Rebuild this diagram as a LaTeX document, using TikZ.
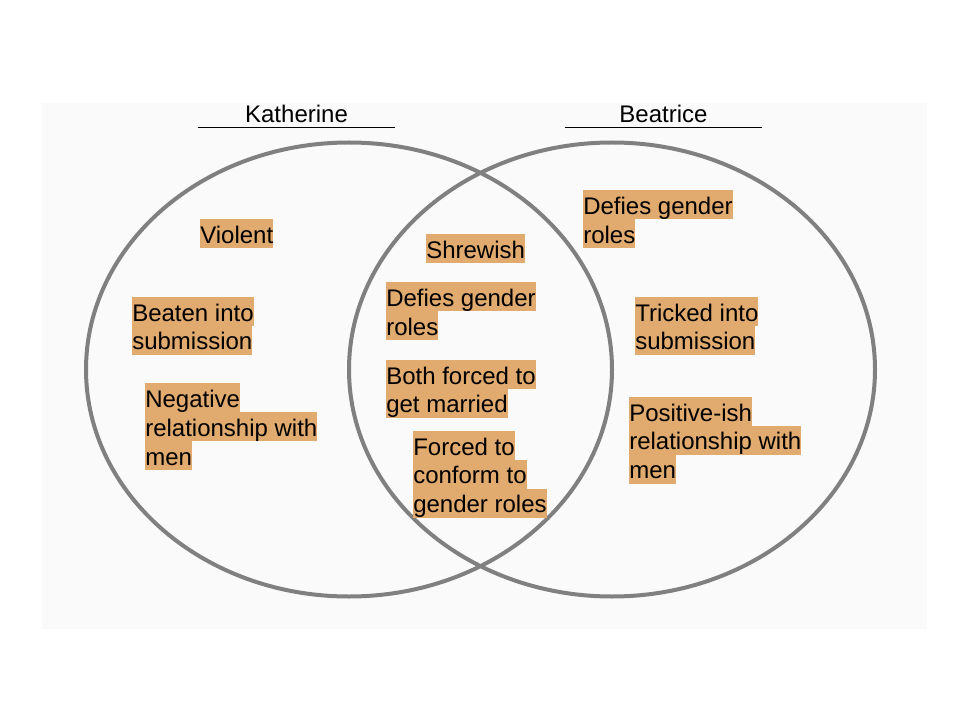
\documentclass[tikz,border=0pt]{standalone}
\usepackage{fontspec}
\setmainfont{Liberation Sans}
\definecolor{hlorange}{RGB}{225,170,110}
\definecolor{ringgray}{RGB}{128,128,128}
\definecolor{panelgray}{RGB}{250,250,250}
\newcommand{\hlline}[1]{{\setlength{\fboxsep}{0pt}\colorbox{hlorange}{\rule[-3.5pt]{0pt}{21.5pt}#1}}}

\begin{document}
\begin{tikzpicture}[x=0.75pt,y=-0.75pt,
ring/.style={draw=ringgray,line width=3pt},
title/.style={font=\fontsize{18}{21.5}\selectfont,inner xsep=0pt,inner ysep=3pt,minimum width=147.75pt,anchor=base},
uline/.style={draw=black,line width=0.9pt},
lab/.style={font={\fontsize{18}{21.5}\selectfont\lineskip=0pt\lineskiplimit=0pt},align=left,inner sep=0pt,anchor=north west}]
\useasboundingbox (0,0) rectangle (960,720);
\fill[panelgray] (42,103) rectangle (927,629);
\draw[ring] (349,369.5) ellipse [x radius=263,y radius=227];
\draw[ring] (612,369.5) ellipse [x radius=263,y radius=227];
\node[title] (ktitle) at (296.5,123) {Katherine};
\node[title] (btitle) at (663.5,123) {Beatrice};
\draw[uline] (ktitle.south west) -- (ktitle.south east);
\draw[uline] (btitle.south west) -- (btitle.south east);
\node[lab] (kviolent) at (200,219) {\hlline{Violent}};
\node[lab] (kbeaten) at (132,297) {\hlline{Beaten into}\\\hlline{submission}};
\node[lab] (knegative) at (145,383) {\hlline{Negative}\\\hlline{relationship with}\\\hlline{men}};
\node[lab] (mshrewish) at (426,234) {\hlline{Shrewish}};
\node[lab] (mdefies) at (386,282) {\hlline{Defies gender}\\\hlline{roles}};
\node[lab] (mmarried) at (386,360) {\hlline{Both forced to}\\\hlline{get married}};
\node[lab] (mconform) at (413,431) {\hlline{Forced to}\\\hlline{conform to}\\\hlline{gender roles}};
\node[lab] (bdefies) at (583,190) {\hlline{Defies gender}\\\hlline{roles}};
\node[lab] (btricked) at (635,297) {\hlline{Tricked into}\\\hlline{submission}};
\node[lab] (bpositive) at (629,397) {\hlline{Positive-ish}\\\hlline{relationship with}\\\hlline{men}};
\end{tikzpicture}
\end{document}
